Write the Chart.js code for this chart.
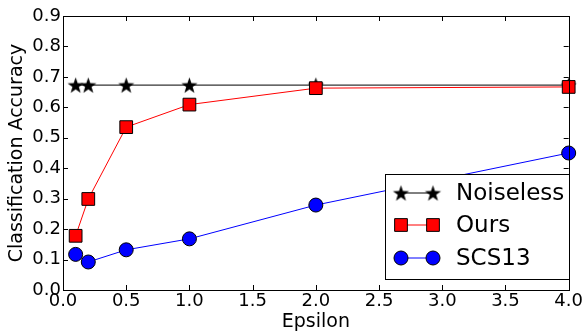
<!DOCTYPE html>
<html><head>
<script src="https://cdn.jsdelivr.net/npm/chart.js@4"></script>
<style>body{margin:0;background:#fff}#wrap{width:584px;height:334px}canvas{display:block}</style>
</head><body>
<div id="wrap"><canvas id="c" width="584" height="334"></canvas></div>
<script>
const epsilon = [0.1, 0.2, 0.5, 1.0, 2.0, 4.0];
const noiseless = [0.673, 0.673, 0.673, 0.673, 0.673, 0.673];
const ours = [0.178, 0.299, 0.535, 0.609, 0.663, 0.667];
const scs13 = [0.117, 0.092, 0.132, 0.168, 0.279, 0.450];
const xTicks = [0, 0.5, 1.0, 1.5, 2.0, 2.5, 3.0, 3.5, 4.0];
const yTicks = [0, 0.1, 0.2, 0.3, 0.4, 0.5, 0.6, 0.7, 0.8, 0.9];
const seriesNames = ['Noiseless', 'Ours', 'SCS13'];
const xTitle = 'Epsilon';
const yTitle = 'Classification Accuracy';

const FONT = 'DejaVu Sans';

function starImage(r) {
  const s = Math.ceil(r * 2 + 2);
  const c = document.createElement('canvas');
  c.width = s; c.height = s;
  const g = c.getContext('2d');
  const cx = s / 2, cy = s / 2 + 0.8;
  g.beginPath();
  for (let i = 0; i < 10; i++) {
    const rad = i % 2 === 0 ? r : r * 0.4;
    const a = -Math.PI / 2 + i * Math.PI / 5;
    const x = cx + rad * Math.cos(a), y = cy + rad * Math.sin(a);
    if (i === 0) g.moveTo(x, y); else g.lineTo(x, y);
  }
  g.closePath();
  g.fillStyle = '#000';
  g.fill();
  return c;
}
const star = starImage(8.5);

function pts(ys) { return epsilon.map((x, i) => ({x: x, y: ys[i]})); }

const frame = {
  id: 'frame',
  afterDraw(chart) {
    const {ctx, chartArea: a, scales: {x, y}} = chart;
    ctx.save();
    ctx.strokeStyle = '#000';
    ctx.lineWidth = 1;
    ctx.strokeRect(Math.round(a.left) + 0.5, Math.round(a.top) + 0.5,
                   Math.round(a.right - a.left), Math.round(a.bottom - a.top));
    const tl = 5;
    ctx.beginPath();
    xTicks.forEach(v => {
      const px = Math.round(x.getPixelForValue(v)) + 0.5;
      ctx.moveTo(px, a.bottom); ctx.lineTo(px, a.bottom - tl);
      ctx.moveTo(px, a.top); ctx.lineTo(px, a.top + tl);
    });
    yTicks.forEach(v => {
      const py = Math.round(y.getPixelForValue(v)) + 0.5;
      ctx.moveTo(a.left, py); ctx.lineTo(a.left + tl, py);
      ctx.moveTo(a.right, py); ctx.lineTo(a.right - tl, py);
    });
    ctx.stroke();

    // legend
    const lx = 385.5, ly = 174.5, lw = 184, lh = 105;
    ctx.fillStyle = '#fff';
    ctx.fillRect(lx, ly, lw, lh);
    ctx.strokeRect(lx, ly, lw, lh);
    const rows = [193, 225, 258];
    const m1 = 401, m2 = 433;
    chart.data.datasets.forEach((ds, i) => {
      const ry = rows[i];
      ctx.beginPath();
      ctx.strokeStyle = ds.borderColor;
      ctx.lineWidth = 1;
      ctx.moveTo(m1, ry); ctx.lineTo(m2, ry);
      ctx.stroke();
      [m1, m2].forEach(mx => {
        if (ds.pointStyle === star) {
          Chart.helpers.drawPoint(ctx, {pointStyle: star, radius: ds.pointRadius, borderWidth: 1, rotation: 0}, mx, ry);
        } else {
          ctx.fillStyle = ds.pointBackgroundColor;
          ctx.strokeStyle = '#000';
          ctx.beginPath();
          if (ds.pointStyle === 'rect') {
            const s = Math.SQRT1_2 * ds.pointRadius;
            ctx.rect(mx - s, ry - s, 2 * s, 2 * s);
          } else {
            ctx.arc(mx, ry, ds.pointRadius, 0, Math.PI * 2);
          }
          ctx.fill(); ctx.stroke();
        }
      });
      ctx.fillStyle = '#000';
      ctx.font = '23px "' + FONT + '"';
      ctx.textBaseline = 'middle';
      ctx.textAlign = 'left';
      ctx.fillText(ds.label, 456, ry + 1);
    });
    ctx.restore();
  }
};

new Chart(document.getElementById('c'), {
  type: 'scatter',
  data: {
    datasets: [
      {label: seriesNames[0], data: pts(noiseless), showLine: true, borderColor: '#000', borderWidth: 1,
       pointStyle: star, pointRadius: 9, pointBackgroundColor: '#000', pointBorderColor: '#000', clip: false, order: 3},
      {label: seriesNames[1], data: pts(ours), showLine: true, borderColor: '#ff0000', borderWidth: 1,
       pointStyle: 'rect', pointRadius: 9, pointBackgroundColor: '#ff0000', pointBorderColor: '#000', pointBorderWidth: 1, clip: false, order: 2},
      {label: seriesNames[2], data: pts(scs13), showLine: true, borderColor: '#0000ff', borderWidth: 1,
       pointStyle: 'circle', pointRadius: 7, pointBackgroundColor: '#0000ff', pointBorderColor: '#000', pointBorderWidth: 1, clip: false, order: 1}
    ]
  },
  options: {
    responsive: false,
    animation: false,
    devicePixelRatio: 1,
    layout: {padding: {left: 0, top: 16, right: 6, bottom: 0}},
    plugins: {legend: {display: false}, tooltip: {enabled: false}},
    elements: {line: {tension: 0}},
    scales: {
      x: {
        type: 'linear', min: 0, max: 4,
        afterBuildTicks: s => { s.ticks = xTicks.map(v => ({value: v})); },
        afterFit: s => { s.height = 44; },
        grid: {display: false, drawTicks: false},
        border: {display: false},
        ticks: {padding: 1, color: '#000', font: {family: FONT, size: 18}, maxRotation: 0,
                callback: v => v.toFixed(1)},
        title: {display: true, text: xTitle, color: '#000', font: {family: FONT, size: 19}, padding: {top: 0, bottom: 1}}
      },
      y: {
        type: 'linear', min: 0, max: 0.9,
        afterBuildTicks: s => { s.ticks = yTicks.map(v => ({value: v})); },
        afterFit: s => { s.width = 63; },
        grid: {display: false, drawTicks: false},
        border: {display: false},
        ticks: {padding: 2, color: '#000', font: {family: FONT, size: 18},
                callback: v => v.toFixed(1)},
        title: {display: true, text: yTitle, color: '#000', font: {family: FONT, size: 19}, padding: {top: 6, bottom: 0}}
      }
    }
  },
  plugins: [frame]
});
</script>
</body></html>
